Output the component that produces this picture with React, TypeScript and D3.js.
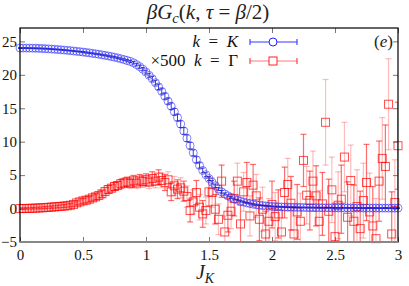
import React, { useEffect, useRef } from "react";
import * as d3 from "d3";

const W = 409;
const H = 286;

// J_K grid (shared by both series)
const jK = [
  0, 0.025, 0.05, 0.075, 0.1, 0.125, 0.15, 0.175, 0.2, 0.225, 0.25, 0.275, 0.3, 0.325, 0.35, 0.375, 0.4, 0.425, 0.45, 0.475,
  0.5, 0.525, 0.55, 0.575, 0.6, 0.625, 0.65, 0.675, 0.7, 0.725, 0.75, 0.775, 0.8, 0.825, 0.85, 0.875, 0.9, 0.925, 0.95, 0.975,
  1, 1.025, 1.05, 1.075, 1.1, 1.125, 1.15, 1.175, 1.2, 1.225, 1.25, 1.275, 1.3, 1.325, 1.35, 1.375, 1.4, 1.425, 1.45, 1.475,
  1.5, 1.525, 1.55, 1.575, 1.6, 1.625, 1.65, 1.675, 1.7, 1.725, 1.75, 1.775, 1.8, 1.825, 1.85, 1.875, 1.9, 1.925, 1.95, 1.975,
  2, 2.025, 2.05, 2.075, 2.1, 2.125, 2.15, 2.175, 2.2, 2.225, 2.25, 2.275, 2.3, 2.325, 2.35, 2.375, 2.4, 2.425, 2.45, 2.475,
  2.5, 2.525, 2.55, 2.575, 2.6, 2.625, 2.65, 2.675, 2.7, 2.725, 2.75, 2.775, 2.8, 2.825, 2.85, 2.875, 2.9, 2.925, 2.95, 2.975,
  3,
];

// k = K
const gK = [
  24.0, 24.0, 24.0, 23.99, 23.98, 23.97, 23.95, 23.93, 23.91, 23.88, 23.85, 23.82, 23.78, 23.74, 23.7, 23.66, 23.61, 23.56, 23.51, 23.46,
  23.4, 23.34, 23.28, 23.21, 23.14, 23.07, 22.99, 22.91, 22.82, 22.73, 22.63, 22.52, 22.4, 22.28, 22.15, 21.99, 21.8, 21.53, 21.22, 20.84,
  20.4, 19.92, 19.4, 18.82, 18.2, 17.52, 16.8, 16.06, 15.3, 14.47, 13.6, 12.62, 11.6, 10.52, 9.4, 8.33, 7.3, 6.45, 5.7, 5.06,
  4.5, 3.92, 3.4, 2.93, 2.5, 2.18, 1.9, 1.66, 1.45, 1.26, 1.1, 0.97, 0.85, 0.75, 0.65, 0.57, 0.5, 0.45, 0.4, 0.36,
  0.32, 0.29, 0.27, 0.25, 0.23, 0.21, 0.2, 0.19, 0.18, 0.17, 0.16, 0.15, 0.14, 0.14, 0.13, 0.12, 0.12, 0.11, 0.11, 0.1,
  0.1, 0.1, 0.1, 0.09, 0.09, 0.09, 0.09, 0.09, 0.08, 0.08, 0.08, 0.08, 0.08, 0.08, 0.07, 0.07, 0.07, 0.07, 0.07, 0.07,
  0.07,
];
const gKErr = [
  0.06, 0.06, 0.06, 0.06, 0.06, 0.06, 0.06, 0.06, 0.06, 0.06, 0.06, 0.06, 0.06, 0.06, 0.06, 0.06, 0.06, 0.06, 0.06, 0.06,
  0.08, 0.08, 0.08, 0.08, 0.08, 0.08, 0.08, 0.08, 0.1, 0.1, 0.1, 0.1, 0.12, 0.12, 0.12, 0.15, 0.18, 0.2, 0.25, 0.25,
  0.3, 0.3, 0.35, 0.35, 0.4, 0.4, 0.45, 0.45, 0.5, 0.5, 0.5, 0.5, 0.5, 0.5, 0.5, 0.45, 0.45, 0.4, 0.35, 0.3,
  0.3, 0.25, 0.25, 0.2, 0.2, 0.15, 0.15, 0.12, 0.12, 0.1, 0.1, 0.1, 0.08, 0.08, 0.08, 0.08, 0.06, 0.06, 0.06, 0.06,
  0.06, 0.06, 0.06, 0.06, 0.06, 0.06, 0.06, 0.06, 0.06, 0.06, 0.06, 0.06, 0.06, 0.06, 0.06, 0.06, 0.06, 0.06, 0.06, 0.06,
  0.06, 0.06, 0.06, 0.06, 0.06, 0.06, 0.06, 0.06, 0.06, 0.06, 0.06, 0.06, 0.06, 0.06, 0.06, 0.06, 0.06, 0.06, 0.06, 0.06,
  0.06,
];

// x500  k = Gamma
const gGamma = [
  0.0, 0.01, 0.02, 0.03, 0.05, 0.07, 0.09, 0.12, 0.15, 0.18, 0.22, 0.26, 0.3, 0.33, 0.38, 0.42, 0.5, 0.62, 0.85, 1.0,
  1.15, 1.25, 1.4, 1.6, 1.75, 1.95, 2.2, 2.55, 2.85, 3.05, 3.3, 3.45, 3.7, 3.85, 4.0, 3.75, 4.15, 3.8, 4.25, 4.05,
  4.3, 3.95, 4.5, 4.1, 4.7, 4.2, 3.9, 4.3, 2.5, 3.4, 2.9, 3.1, 2.6, 1.8, -0.3, 1.0, 2.4, 0.2, -0.8, -0.3,
  2.5, 2.4, -0.1, -1.6, 4.1, -3.5, -1.0, -0.4, 1.5, 4.1, -2.3, 2.5, 3.9, -1.1, 3.5, 1.9, -1.6, -0.1, -3.8, -1.9,
  0.6, -1.2, -0.8, -3.5, 2.4, 3.6, 0.8, -3.8, -0.5, -1.9, 7.2, 2.0, 1.2, 4.1, 1.9, -1.9, 0.7, 12.9, -0.4, 2.8,
  -4.2, 0.5, 1.4, 7.7, -1.3, 4.2, -1.9, 0.3, -3.0, 1.2, 3.9, -0.5, -2.6, -4.5, 4.1, 7.5, 6.3, 15.6, -3.8, 0.9,
  9.4,
];
const gGammaErr = [
  0.1, 0.1, 0.1, 0.1, 0.12, 0.12, 0.12, 0.15, 0.15, 0.15, 0.18, 0.18, 0.2, 0.2, 0.22, 0.22, 0.25, 0.28, 0.3, 0.3,
  0.35, 0.35, 0.4, 0.4, 0.45, 0.45, 0.5, 0.5, 0.55, 0.55, 0.6, 0.6, 0.65, 0.7, 0.7, 0.75, 0.8, 0.8, 0.85, 0.9,
  0.9, 0.95, 1.0, 1.0, 1.1, 1.1, 1.2, 1.2, 1.3, 1.4, 1.4, 1.5, 1.5, 1.6, 1.7, 1.8, 1.8, 1.9, 2.0, 2.0,
  2.1, 2.2, 2.2, 2.3, 2.4, 2.4, 2.5, 2.6, 2.6, 2.7, 2.8, 2.9, 3.0, 3.0, 3.1, 3.2, 3.2, 3.3, 3.4, 3.4,
  3.5, 3.6, 3.6, 3.7, 3.8, 3.9, 4.0, 4.0, 4.1, 4.2, 3.9, 4.3, 4.4, 4.5, 4.5, 4.6, 4.7, 6.4, 4.8, 4.9,
  5.0, 5.0, 5.1, 5.2, 5.3, 5.3, 5.4, 5.5, 5.6, 5.6, 5.7, 5.8, 5.9, 6.0, 6.0, 6.1, 6.2, 6.8, 6.3, 6.4,
  6.5,
];

const xTicks = [0, 0.5, 1, 1.5, 2, 2.5, 3];
const xTickLabels = ["0", "0.5", "1", "1.5", "2", "2.5", "3"];
const yTicks = [-5, 0, 5, 10, 15, 20, 25];
const yTickLabels = ["\u22125", "0", "5", "10", "15", "20", "25"];

const FONT = "'Liberation Serif', 'DejaVu Serif', serif";

// append a run of [text, italic, sub] pieces as tspans
function richText(sel, parts) {
  parts.forEach(([t, it, sub]) => {
    const ts = sel.append("tspan").text(t);
    if (it) ts.attr("font-style", "italic");
    if (sub) ts.attr("font-size", "0.7em").attr("baseline-shift", "-25%");
  });
  return sel.attr("xml:space", "preserve").style("white-space", "pre");
}

export default function App() {
  const svgRef = useRef(null);

  useEffect(() => {
    const svg = d3.select(svgRef.current);
    svg.selectAll("*").remove();

    const margin = { top: 28, right: 11, bottom: 44, left: 20 };
    const pw = W - margin.left - margin.right;
    const ph = H - margin.top - margin.bottom;

    const x = d3.scaleLinear().domain([0, 3]).range([margin.left, margin.left + pw]);
    const y = d3.scaleLinear().domain([-5, 27]).range([margin.top + ph, margin.top]);

    svg.append("rect").attr("width", W).attr("height", H).attr("fill", "#fff");

    svg.append("clipPath").attr("id", "plotclip")
      .append("rect")
      .attr("x", margin.left).attr("y", margin.top)
      .attr("width", pw).attr("height", ph);

    // --- axes (inward ticks) ---
    const styleAxis = (g) => {
      g.select(".domain").remove();
      g.selectAll(".tick line").attr("stroke", "#777").attr("stroke-width", 1);
      g.selectAll("text").attr("font-family", FONT).attr("font-size", 15).attr("fill", "#111");
    };

    svg.append("g")
      .attr("transform", `translate(0,${margin.top + ph})`)
      .call(d3.axisBottom(x).tickValues(xTicks).tickSize(-5).tickPadding(7)
        .tickFormat((d, i) => xTickLabels[i]))
      .call(styleAxis);

    svg.append("g")
      .attr("transform", `translate(0,${margin.top})`)
      .call(d3.axisTop(x).tickValues(xTicks).tickSize(-5).tickFormat(() => ""))
      .call(styleAxis);

    svg.append("g")
      .attr("transform", `translate(${margin.left},0)`)
      .call(d3.axisLeft(y).tickValues(yTicks).tickSize(-5).tickPadding(3)
        .tickFormat((d, i) => yTickLabels[i]))
      .call(styleAxis);

    svg.append("g")
      .attr("transform", `translate(${margin.left + pw},0)`)
      .call(d3.axisRight(y).tickValues(yTicks).tickSize(-5).tickFormat(() => ""))
      .call(styleAxis);

    const K = jK.map((j, i) => ({ j, v: gK[i], e: gKErr[i], i }));
    const G = jK.map((j, i) => ({ j, v: gGamma[i], e: gGammaErr[i], i }));

    const clampY = (v) => y(Math.max(-5, Math.min(27, v)));

    // --- red error bars ---
    const redBars = svg.append("g").attr("clip-path", "url(#plotclip)");
    G.forEach((d) => {
      const op = d.i % 2 === 0 ? 0.65 : 0.3;
      const g = redBars.append("g").attr("stroke", "#ff2020").attr("stroke-opacity", op).attr("stroke-width", 1.2);
      const cx = x(d.j);
      g.append("line").attr("x1", cx).attr("x2", cx).attr("y1", clampY(d.v - d.e)).attr("y2", clampY(d.v + d.e));
      [d.v - d.e, d.v + d.e].forEach((v) => {
        g.append("line").attr("x1", cx - 3).attr("x2", cx + 3).attr("y1", y(v)).attr("y2", y(v));
      });
    });

    // --- red squares ---
    svg.append("g").selectAll("rect")
      .data(G)
      .join("rect")
      .attr("x", (d) => x(d.j) - 4)
      .attr("y", (d) => y(d.v) - 4)
      .attr("width", 8)
      .attr("height", 8)
      .attr("fill", "none")
      .attr("stroke", "#ff0000")
      .attr("stroke-opacity", 0.7)
      .attr("stroke-width", 1);

    // --- blue error bars ---
    const blueBars = svg.append("g").attr("stroke", "#0000b0").attr("stroke-opacity", 0.75).attr("stroke-width", 1);
    K.forEach((d) => {
      const cx = x(d.j);
      blueBars.append("line").attr("x1", cx).attr("x2", cx).attr("y1", y(d.v - d.e)).attr("y2", y(d.v + d.e));
      [d.v - d.e, d.v + d.e].forEach((v) => {
        blueBars.append("line").attr("x1", cx - 2).attr("x2", cx + 2).attr("y1", y(v)).attr("y2", y(v));
      });
    });

    // --- blue circles ---
    svg.append("g").selectAll("circle")
      .data(K)
      .join("circle")
      .attr("cx", (d) => x(d.j))
      .attr("cy", (d) => y(d.v))
      .attr("r", 4)
      .attr("fill", "none")
      .attr("stroke", "#3030ff")
      .attr("stroke-opacity", 0.6)
      .attr("stroke-width", 1);

    // --- frame ---
    svg.append("rect")
      .attr("x", margin.left).attr("y", margin.top)
      .attr("width", pw).attr("height", ph)
      .attr("fill", "none").attr("stroke", "#000").attr("stroke-width", 1.2);
    svg.append("line")
      .attr("x1", margin.left).attr("x2", margin.left + pw)
      .attr("y1", margin.top + ph).attr("y2", margin.top + ph)
      .attr("stroke", "#888").attr("stroke-width", 2.2);

    // --- legend ---
    const legendRows = [
      { y: 42, color: "#2222ff", barOpacity: 0.9, marker: "circle", parts: [["k", true], ["\u2002=\u2002"], ["K", true]] },
      { y: 61, color: "#ff2020", barOpacity: 0.6, marker: "square", parts: [["\u00d7500\u2002"], ["k", true], ["\u2002=\u2002"], ["\u0393"]] },
    ];
    legendRows.forEach((r) => {
      const t = svg.append("text")
        .attr("x", 238).attr("y", r.y + 5)
        .attr("text-anchor", "end")
        .attr("font-family", FONT).attr("font-size", 17).attr("fill", "#111");
      richText(t, r.parts);
      const g = svg.append("g").attr("stroke", r.color);
      g.append("line").attr("x1", 250).attr("x2", 297).attr("y1", r.y).attr("y2", r.y).attr("stroke-opacity", r.barOpacity);
      g.append("line").attr("x1", 250).attr("x2", 250).attr("y1", r.y - 3).attr("y2", r.y + 3);
      g.append("line").attr("x1", 297).attr("x2", 297).attr("y1", r.y - 3).attr("y2", r.y + 3);
      if (r.marker === "circle") {
        g.append("circle").attr("cx", 273).attr("cy", r.y).attr("r", 4).attr("fill", "#fff");
      } else {
        g.append("rect").attr("x", 269).attr("y", r.y - 4).attr("width", 8).attr("height", 8).attr("fill", "#fff");
      }
    });

    // --- panel tag ---
    richText(
      svg.append("text").attr("x", 393).attr("y", 47).attr("text-anchor", "end")
        .attr("font-family", FONT).attr("font-size", 17).attr("fill", "#222"),
      [["("], ["e", true], [")"]]
    );

    // --- title ---
    richText(
      svg.append("text").attr("x", 208).attr("y", 19).attr("text-anchor", "middle")
        .attr("font-family", FONT).attr("font-size", 21).attr("fill", "#222"),
      [["\u03b2", true], ["G", true], ["c", true, true], ["("], ["k", true], [", "], ["\u03c4", true], [" = "], ["\u03b2", true], ["/2)"]]
    );

    // --- x label ---
    richText(
      svg.append("text").attr("x", 205).attr("y", 279).attr("text-anchor", "middle")
        .attr("font-family", FONT).attr("font-size", 20).attr("fill", "#222"),
      [["J", true], ["K", true, true]]
    );
  }, []);

  return (
    <svg
      ref={svgRef}
      width={W}
      height={H}
      style={{ position: "absolute", left: 0, top: 0, display: "block" }}
    />
  );
}
